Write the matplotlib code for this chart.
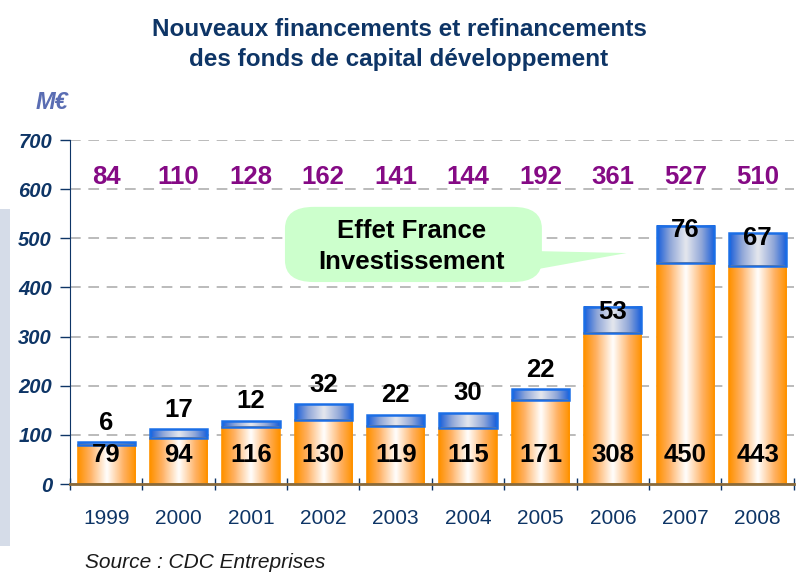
import matplotlib
matplotlib.use("Agg")
import matplotlib.pyplot as plt
import matplotlib.patches as mpatches
from matplotlib.colors import LinearSegmentedColormap
import numpy as np

plt.rcParams["font.family"] = ["Liberation Sans", "DejaVu Sans"]

# ── Données ──────────────────────────────────────────────────────────────────
years = ["1999", "2000", "2001", "2002", "2003", "2004", "2005", "2006", "2007", "2008"]
nouveaux = [79, 94, 116, 130, 119, 115, 171, 308, 450, 443]
refin = [6, 17, 12, 32, 22, 30, 22, 53, 76, 67]
totaux = [84, 110, 128, 162, 141, 144, 192, 361, 527, 510]

# ── Couleurs ─────────────────────────────────────────────────────────────────
NAVY = "#0E3566"
PURPLE = "#850A85"
ORANGE = "#FF9200"
BLUE = "#1B6EE6"
GREEN = "#CCFFCC"

cmap_orange = LinearSegmentedColormap.from_list(
    "or", [(0, ORANGE), (0.2, "#FFB060"), (0.5, "#FFFFFF"), (0.8, "#FFB060"), (1, ORANGE)])
cmap_blue = LinearSegmentedColormap.from_list(
    "bl", [(0, "#1A5FDA"), (0.22, "#8FA6D8"), (0.5, "#E6E8EE"), (0.78, "#8FA6D8"), (1, "#1A5FDA")])
grad = np.linspace(0, 1, 64).reshape(1, -1)

fig = plt.figure(figsize=(7.98, 5.72), dpi=100)
fig.patch.set_facecolor("white")
ax = fig.add_axes([0.0877, 0.1538, 0.907, 0.6014])

x = np.arange(len(years))
w = 0.79

for i in x:
    b, r = nouveaux[i], refin[i]
    ax.imshow(grad, cmap=cmap_orange, aspect="auto", interpolation="bicubic",
              extent=(i - w / 2, i + w / 2, 0, b), zorder=2)
    ax.add_patch(mpatches.Rectangle((i - w / 2, 0), w, b, fill=False,
                                    edgecolor=ORANGE, linewidth=1.2, zorder=3))
    ax.imshow(grad, cmap=cmap_blue, aspect="auto", interpolation="bicubic",
              extent=(i - w / 2, i + w / 2, b, b + r), zorder=2)
    ax.add_patch(mpatches.Rectangle((i - w / 2, b), w, r, fill=False,
                                    edgecolor=BLUE, linewidth=1.8, zorder=3))

    ax.text(i, 59, str(b), ha="center", va="center", fontsize=18.5,
            fontweight="bold", color="black", zorder=5)
    top = b + r
    ylab = top + 40 if top < 300 else top - 10
    ax.text(i, ylab, str(r), ha="center", va="center", fontsize=18.5,
            fontweight="bold", color="black", zorder=5)
    ax.text(i, 625, str(totaux[i]), ha="center", va="center", fontsize=18.5,
            fontweight="bold", color=PURPLE, zorder=5)

# ── Axes ─────────────────────────────────────────────────────────────────────
ax.set_xlim(-0.5, len(years) - 0.5)
ax.set_ylim(0, 700)
ax.set_yticks(range(0, 701, 100))
ax.set_yticklabels([str(v) for v in range(0, 701, 100)], fontsize=14.5,
                   fontweight="bold", fontstyle="italic", color=NAVY)
ax.set_xticks(x)
ax.set_xticklabels(years, fontsize=15, color=NAVY)
ax.set_xticks(np.arange(-0.5, len(years), 1), minor=True)
ax.tick_params(axis="x", which="major", length=0, pad=18)
ax.tick_params(axis="x", which="minor", length=8, direction="inout",
               color=NAVY, width=1)
ax.tick_params(axis="y", length=7, direction="out", color=NAVY, width=1, pad=6)
ax.yaxis.grid(True, linestyle=(0, (7, 5)), color="#A8A8A8", linewidth=1.1)
ax.set_axisbelow(True)
for s in ["top", "right"]:
    ax.spines[s].set_visible(False)
ax.spines["left"].set_color(NAVY)
ax.spines["bottom"].set_color("#8A6A3A")
ax.spines["bottom"].set_linewidth(2)
ax.spines["bottom"].set_zorder(4)

# ── Bulle "Effet France Investissement" ─────────────────────────────────────
ax.add_patch(mpatches.FancyBboxPatch(
    (2.47, 411), 3.55, 153, boxstyle="round,pad=0,rounding_size=0.4",
    mutation_aspect=110, facecolor=GREEN, edgecolor="none", zorder=6))
ax.add_patch(mpatches.Polygon(
    [(5.95, 474), (7.19, 470), (5.95, 437)], closed=True,
    facecolor=GREEN, edgecolor="none", zorder=6))
ax.text(4.22, 483, "Effet France\nInvestissement", ha="center", va="center",
        fontsize=18.5, fontweight="bold", color="black", linespacing=1.35,
        zorder=7)

# ── Titre, unité, source ─────────────────────────────────────────────────────
fig.text(0.5, 0.922, "Nouveaux financements et refinancements\ndes fonds de capital développement",
         ha="center", va="center", fontsize=17.5, fontweight="bold",
         color=NAVY, linespacing=1.4)
fig.text(0.045, 0.82, "M€", ha="left", va="center", fontsize=17,
         fontweight="bold", fontstyle="italic", color="#5A6DB3")
fig.text(0.107, 0.017, "Source : CDC Entreprises", ha="left", va="center",
         fontsize=15, fontstyle="italic", color="#1A1A1A")
fig.patches.append(mpatches.Rectangle(
    (0, 0.045), 0.012, 0.59, transform=fig.transFigure,
    facecolor="#D5DCE8", edgecolor="none"))

fig.savefig("out.png", dpi=100, facecolor="white")
